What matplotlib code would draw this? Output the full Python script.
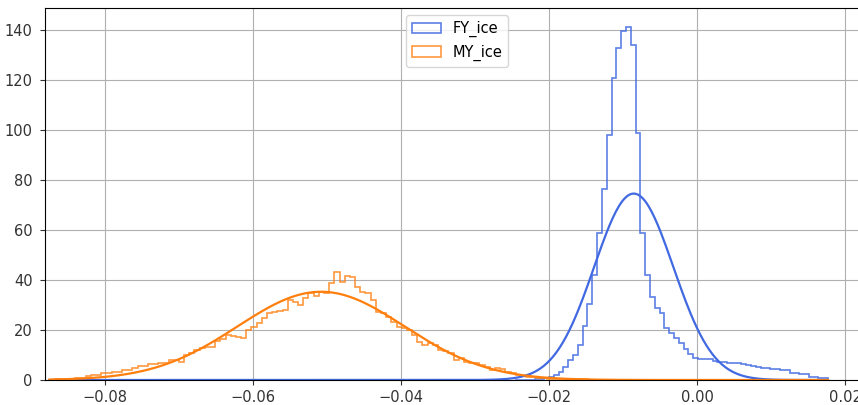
import numpy as np
import matplotlib
matplotlib.use("Agg")
import matplotlib.pyplot as plt

# FY_ice histogram (density), bins of equal width starting at fy_start
fy_start = -0.02455
fy_width = 0.00065
fy_heights = [0.05, 0.1, 0.15, 0.2, 0.3, 0.5, 0.8, 1.3, 2.0, 3.3, 5.3, 8.0,
              10.0, 14.0, 21.6, 30.3, 42.0, 58.7,
              76.4, 98.0, 121.0, 133.0, 139.6, 141.3, 134.0, 98.8, 58.7, 42.0,
              33.3, 28.7, 26.7, 20.7, 18.7, 16.7, 14.7, 12.5, 10.5, 9.0,
              8.4, 8.2, 8.3, 7.6, 7.3, 7.2, 7.0, 6.8, 7.0, 6.4,
              6.0, 5.6, 5.3, 5.0, 4.8, 4.5, 4.2, 4.0, 3.9, 2.8,
              2.7, 2.6, 2.4, 1.1, 1.1, 1.0, 0.9]

# MY_ice histogram (density)
my_start = -0.0875
my_width = 0.0007
my_heights = [0.2, 0.4, 0.4, 0.6, 0.6, 1.0, 1.0, 1.6, 2.0, 2.0,
              2.7, 2.7, 3.3, 3.3, 4.0, 4.0, 4.7, 5.7, 5.7, 6.3,
              6.3, 6.7, 6.7, 8.0, 8.0, 7.3, 10.0, 11.0, 12.0, 12.7,
              13.3, 13.3, 15.5, 16.5, 18.0, 17.6, 17.3, 17.0, 20.0, 21.3,
              23.0, 24.7, 26.7, 27.3, 27.7, 28.0, 32.0, 31.3, 30.0, 32.7,
              34.7, 33.6, 35.3, 35.0, 38.7, 43.3, 39.3, 41.6, 41.3, 37.3,
              35.3, 34.7, 32.0, 27.3, 26.7, 25.3, 23.3, 21.3, 21.0, 20.0,
              18.0, 15.3, 14.0, 14.7, 14.0, 12.0, 11.5, 10.7, 8.0, 8.7,
              7.3, 7.0, 6.8, 6.0, 5.3, 4.0, 4.7, 4.5, 3.3, 2.8,
              2.0, 1.6, 1.3, 1.2, 0.9, 0.8, 0.5, 0.5, 0.4, 0.4,
              0.3, 0.3, 0.2, 0.2, 0.15, 0.1, 0.1, 0.05]

# normal fits (mean, std)
fy_mu, fy_sigma = -0.00855, 0.00535
my_mu, my_sigma = -0.0508, 0.0113


def norm_pdf(x, mu, sigma):
    return np.exp(-0.5 * ((x - mu) / sigma) ** 2) / (sigma * np.sqrt(2 * np.pi))


def main():
    fig = plt.figure(figsize=(8.58, 4.05), dpi=100)
    ax = fig.add_axes([45 / 858, 25 / 405, 824 / 858, 372 / 405])

    fy_edges = fy_start + fy_width * np.arange(len(fy_heights) + 1)
    my_edges = my_start + my_width * np.arange(len(my_heights) + 1)

    ax.hist(fy_edges[:-1], bins=fy_edges, weights=fy_heights, histtype="step",
            color="royalblue", alpha=0.85, linewidth=1.2, label="FY_ice")
    ax.hist(my_edges[:-1], bins=my_edges, weights=my_heights, histtype="step",
            color="#ff7f0e", alpha=0.8, linewidth=1.2, label="MY_ice")

    xs = np.linspace(my_edges[0], fy_edges[-1], 500)
    ax.plot(xs, norm_pdf(xs, fy_mu, fy_sigma), color="royalblue", linewidth=1.6)
    ax.plot(xs, norm_pdf(xs, my_mu, my_sigma), color="#ff7f0e", linewidth=1.6)

    ax.set_xlim(-0.0881, 0.02324)
    ax.set_ylim(0, 148.8)
    ax.set_xticks([-0.08, -0.06, -0.04, -0.02, 0.00, 0.02])
    ax.set_yticks([0, 20, 40, 60, 80, 100, 120, 140])
    ax.tick_params(labelsize=10.5, colors="#333333")
    ax.tick_params(axis="y", pad=5.5)
    ax.grid(True)
    ax.legend(loc="upper center", fontsize=10.5)

    fig.savefig("out.png", dpi=100)


if __name__ == "__main__":
    main()
